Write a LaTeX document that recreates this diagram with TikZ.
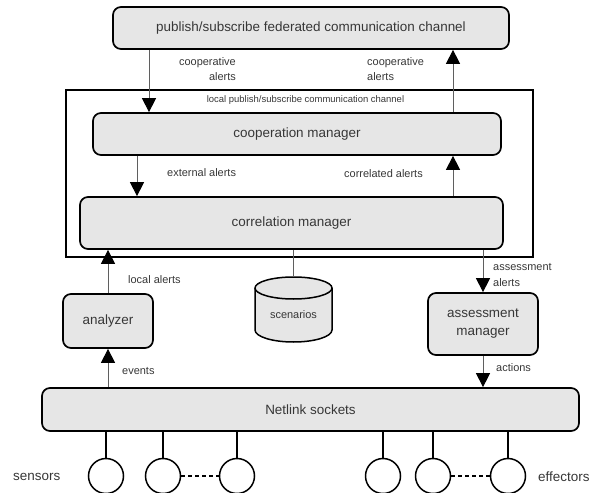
\documentclass[tikz,border=0pt]{standalone}
\usepackage{fontspec}
\setmainfont{Liberation Sans}
\usetikzlibrary{arrows.meta}
\tikzstyle{diagram} = [x = 1bp, y = -1bp]
\definecolor{boxFill}{RGB}{230,230,230}
\definecolor{textGray}{RGB}{55,55,55}
\definecolor{arrowGray}{RGB}{95,95,95}
\tikzstyle{moduleStyle} = [draw=black, fill=boxFill, rounded corners = 8bp, line width = 1.7bp, text=textGray, font=\fontsize{13.5}{16}\selectfont, align=center, inner sep=0pt]
\tikzstyle{flowText} = [text=textGray, font=\fontsize{11}{15}\selectfont, inner sep=0pt]
\tikzstyle{flowArrow} = [draw=arrowGray, line width = .9bp, -{Triangle[width=14bp, length=14bp, color=black]}]
\tikzstyle{plainLink} = [draw=arrowGray, line width = .9bp]
\tikzstyle{frameLine} = [draw=black, line width = 2.2bp]
\tikzstyle{storeStyle} = [draw=black, fill=boxFill, line width = 1.5bp]
\tikzstyle{deviceStyle} = [circle, draw=black, fill=white, line width = 1.5bp, minimum size = 35bp, inner sep=0pt]
\tikzstyle{deviceLink} = [draw=black, line width = 1.5bp]
\tikzstyle{dotLink} = [draw=black, line width = 2.5bp, dash pattern = on 4bp off 3bp]
\newcommand{\moduleBox}[5]{\node [moduleStyle, minimum width = #4, minimum height = #5] (#1) at (#2) {#3};}
\newcommand{\flowLabel}[4]{\node [flowText, anchor = west, align = left, #4] (#1) at (#2) {#3};}

\begin{document}
\begin{tikzpicture}[diagram]
  \useasboundingbox (0,0) rectangle (594,493);
  \moduleBox{fedChannel}{311,28}{publish/subscribe federated communication channel}{396bp}{42bp}
  \draw [frameLine] (66,90) rectangle (533,257);
  \node [flowText, font=\fontsize{9.5}{11}\selectfont] (localChannel) at (305.5,100) {local publish/subscribe communication channel};
  \moduleBox{coopManager}{297,134}{cooperation manager}{408bp}{42bp}
  \moduleBox{corrManager}{291.5,223}{correlation manager}{423bp}{52bp}
  \moduleBox{analyzer}{108,321}{analyzer}{90bp}{54bp}
  \moduleBox{assessManager}{483,324}{assessment\\[2bp]manager}{110bp}{62bp}
  \moduleBox{netlink}{310.5,409.5}{Netlink sockets}{537bp}{43bp}

  \draw [storeStyle] (255,288) -- (255,330) arc [start angle = 180, end angle = 0, x radius = 38.5, y radius = 12]
    -- (332,288) arc [start angle = 0, end angle = -180, x radius = 38.5, y radius = 11] -- cycle;
  \draw [storeStyle, fill = none] (255,288) arc [start angle = 180, end angle = 0, x radius = 38.5, y radius = 11];
  \coordinate (scenariosTop) at (293.5,277);
  \node [flowText] (scenarios) at (293.5,315) {scenarios};

  \draw [flowArrow] (149,0 |- fedChannel.south) -- (149,0 |- coopManager.north);
  \draw [flowArrow] (453,0 |- coopManager.north) -- (453,0 |- fedChannel.south);
  \draw [flowArrow] (137,0 |- coopManager.south) -- (137,0 |- corrManager.north);
  \draw [flowArrow] (453,0 |- corrManager.north) -- (453,0 |- coopManager.south);
  \draw [flowArrow] (analyzer.north) -- (analyzer.north |- corrManager.south);
  \draw [flowArrow] (analyzer.south |- netlink.north) -- (analyzer.south);
  \draw [flowArrow] (assessManager.north |- corrManager.south) -- (assessManager.north);
  \draw [flowArrow] (assessManager.south) -- (assessManager.south |- netlink.north);
  \draw [plainLink] (scenariosTop |- corrManager.south) -- (scenariosTop);

  \node [flowText, anchor = east, align = right] (coopInText) at (236,69.5) {cooperative\\alerts};
  \flowLabel{coopOutText}{367,69.5}{cooperative\\alerts}{}
  \flowLabel{externalText}{167,173}{external alerts}{}
  \flowLabel{correlatedText}{344,174}{correlated alerts}{}
  \flowLabel{localText}{128,280}{local alerts}{}
  \flowLabel{eventsText}{122,371}{events}{}
  \flowLabel{assessText}{493,275}{assessment\\alerts}{font=\fontsize{11}{16}\selectfont}
  \flowLabel{actionsText}{496,368}{actions}{}

  \foreach \devName/\devX in {sensorA/106, sensorB/163, sensorC/237, effectorA/383, effectorB/433, effectorC/508} {
    \node [deviceStyle] (\devName) at (\devX,476) {};
    \draw [deviceLink] (\devName.north) -- (\devName |- netlink.south);
  }
  \draw [dotLink] (sensorB) -- (sensorC);
  \draw [dotLink] (effectorB) -- (effectorC);
  \flowLabel{sensorsText}{13,477}{sensors}{font=\fontsize{13.5}{16}\selectfont}
  \flowLabel{effectorsText}{538,477}{effectors}{font=\fontsize{13.5}{16}\selectfont}
\end{tikzpicture}
\end{document}
